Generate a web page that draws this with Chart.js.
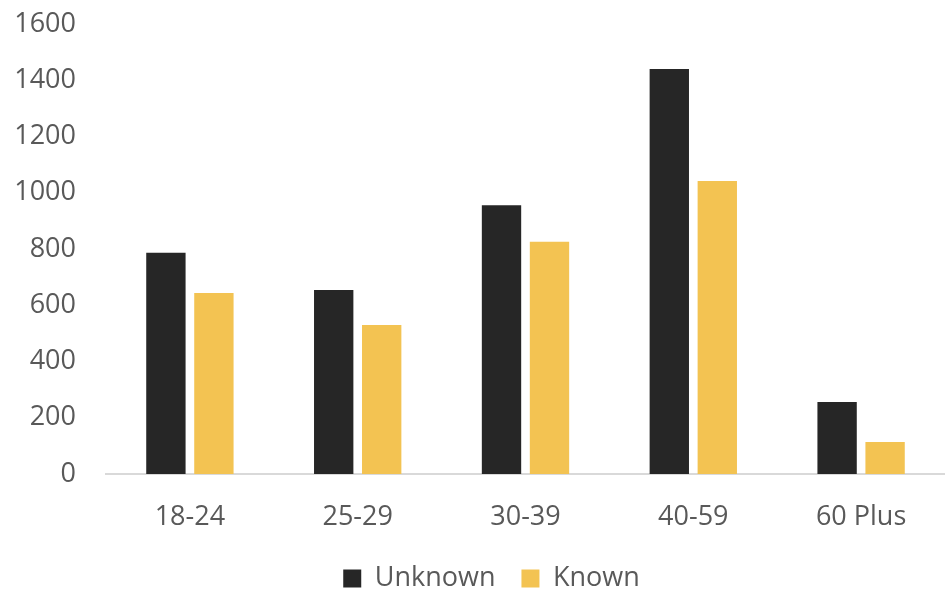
<!DOCTYPE html>
<html>
<head>
<meta charset="utf-8">
<script src="https://cdn.jsdelivr.net/npm/chart.js@4"></script>
<style>
  html, body { margin: 0; padding: 0; background: #fff; }
  #wrap { width: 945px; height: 589px; }
</style>
</head>
<body>
<div id="wrap"><canvas id="ageChart" width="945" height="589"></canvas></div>
<script>
// age groups and counts per group
const ageGroups = ["18-24", "25-29", "30-39", "40-59", "60 Plus"];
const unknownCounts = [787, 654, 956, 1440, 256];
const knownCounts = [644, 530, 826, 1042, 114];
const yTicks = [0, 200, 400, 600, 800, 1000, 1200, 1400, 1600];

const textColor = "#595959";
const fontFamily = "'Open Sans', 'Liberation Sans', sans-serif";

// nudge the legend a bit to the right of the canvas centre
const legendShift = {
    id: "legendShift",
    afterLayout(chart) {
        chart.legend.left += 38;
    }
};

const ctx = document.getElementById("ageChart").getContext("2d");

new Chart(ctx, {
    type: "bar",
    data: {
        labels: ageGroups,
        datasets: [
            {
                label: "Unknown",
                data: unknownCounts,
                backgroundColor: "#262626",
                borderWidth: 0
            },
            {
                label: "Known",
                data: knownCounts,
                backgroundColor: "#F3C352",
                borderWidth: 0
            }
        ]
    },
    plugins: [legendShift],
    options: {
        responsive: false,
        animation: false,
        devicePixelRatio: 1,
        layout: {
            autoPadding: false,
            padding: { top: 0, right: 0, left: 0, bottom: -13 }
        },
        datasets: {
            bar: { categoryPercentage: 0.572, barPercentage: 0.82 }
        },
        plugins: {
            tooltip: { enabled: false },
            legend: {
                position: "bottom",
                labels: {
                    color: textColor,
                    font: { family: fontFamily, size: 27 },
                    boxWidth: 18,
                    boxHeight: 18,
                    padding: 26
                }
            }
        },
        scales: {
            x: {
                grid: { display: false },
                border: { display: true, color: "#d9d9d9", width: 2 },
                afterFit: scale => { scale.height = 65; },
                ticks: {
                    color: textColor,
                    font: { family: fontFamily, size: 27 },
                    padding: 19
                }
            },
            y: {
                min: 0,
                max: 1600,
                afterBuildTicks: scale => {
                    scale.ticks = yTicks.map(v => ({ value: v }));
                },
                afterFit: scale => {
                    scale.width = 106;
                    scale.paddingTop = 24;
                    scale.paddingBottom = 0;
                },
                grid: { display: false },
                border: { display: false },
                ticks: {
                    color: textColor,
                    font: { family: fontFamily, size: 27 },
                    padding: 22,
                    callback: value => String(value)
                }
            }
        }
    }
});
</script>
</body>
</html>
